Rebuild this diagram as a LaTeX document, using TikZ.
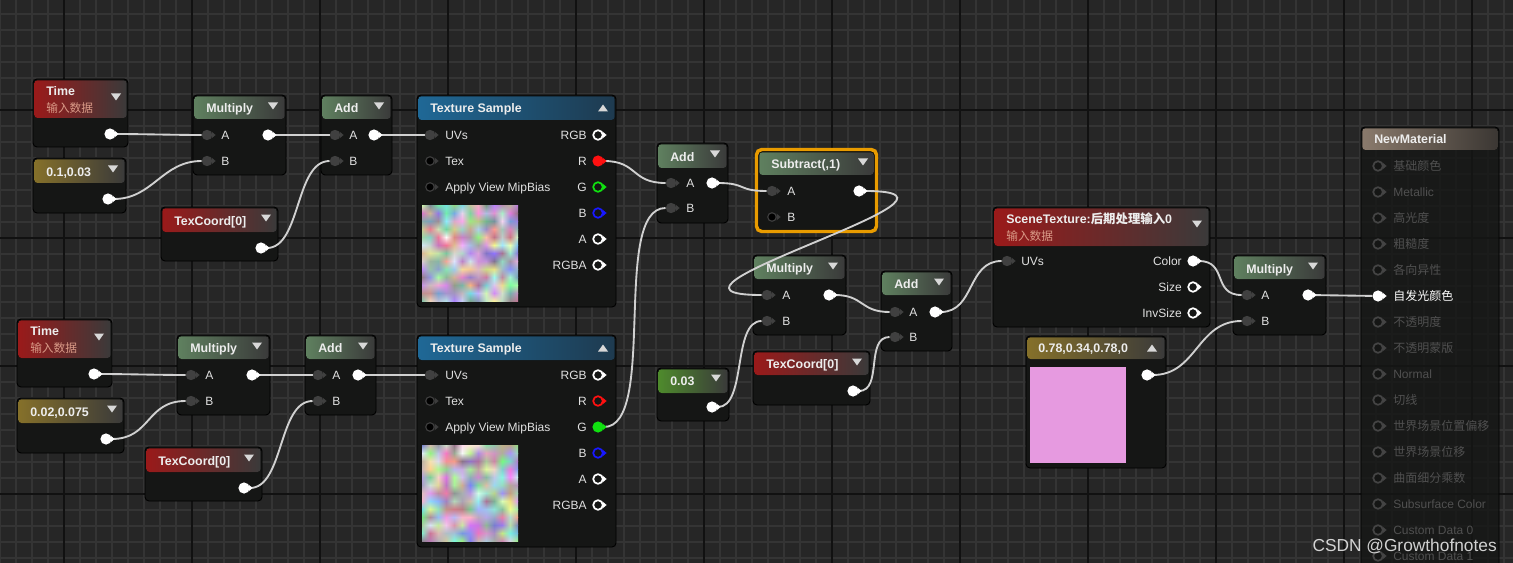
\documentclass[tikz,border=0pt]{standalone}
\usepackage{fontspec}
\setmainfont{Liberation Sans}
\newfontfamily\cjk{Noto Sans CJK SC}
\usetikzlibrary{positioning,shadings}

\definecolor{gridbg}{HTML}{262626}
\definecolor{gridminor}{HTML}{343434}
\definecolor{gridmajor}{HTML}{111111}
\definecolor{nodebody}{HTML}{151615}
\definecolor{hdgrey}{HTML}{3A3A3A}
\definecolor{redL}{HTML}{9A1A1A}
\definecolor{greenL}{HTML}{5F805F}
\definecolor{oliveL}{HTML}{85702A}
\definecolor{blueL}{HTML}{1F6896}
\definecolor{blueR}{HTML}{1E3A4F}
\definecolor{limeL}{HTML}{4E8A2C}
\definecolor{brownL}{HTML}{8A7A6C}
\definecolor{brownR}{HTML}{3B3733}
\definecolor{selorange}{HTML}{E89B00}
\definecolor{wirecol}{HTML}{D0D0D0}
\definecolor{pingrey}{HTML}{404040}
\definecolor{freering}{HTML}{3C3C3C}
\definecolor{dimpin}{HTML}{444444}
\definecolor{pinred}{HTML}{FF1010}
\definecolor{pingreen}{HTML}{10E010}
\definecolor{pinblue}{HTML}{1818FF}
\definecolor{titletext}{HTML}{EDEDED}
\definecolor{lbltext}{HTML}{E0E0E0}
\definecolor{subtext}{HTML}{D99A87}
\definecolor{dimtext}{HTML}{505050}
\definecolor{tricol}{HTML}{D8D8D8}
\definecolor{swatch}{HTML}{E69AE0}

\pgfdeclarelayer{grid}
\pgfdeclarelayer{bodies}
\pgfdeclarelayer{wires}
\pgfsetlayers{grid,bodies,wires,main}

\tikzset{
  body/.style={draw=black, fill=nodebody, rounded corners=3pt, line width=0.7pt, inner sep=0pt, outer sep=0pt},
  hdred/.style={left color=redL, right color=hdgrey},
  hdgreen/.style={left color=greenL, right color=hdgrey},
  hdolive/.style={left color=oliveL, right color=hdgrey},
  hdblue/.style={left color=blueL, right color=blueR},
  hdlime/.style={left color=limeL, right color=hdgrey},
  hdbrown/.style={left color=brownL, right color=brownR},
  title/.style={anchor=west, inner sep=0pt, text=titletext, font=\bfseries\fontsize{9.3}{10}\selectfont, text height=7.5pt, text depth=1.1pt},
  subtitle/.style={anchor=west, inner sep=0pt, text=subtext, font=\cjk\fontsize{8.8}{10}\selectfont, text height=7.5pt, text depth=1.1pt},
  lbl/.style={anchor=west, inner sep=0pt, text=lbltext, font=\fontsize{9}{10}\selectfont, text height=7.5pt, text depth=1.1pt},
  rlbl/.style={lbl, anchor=east},
  dimlbl/.style={lbl, text=dimtext},
  pinin/.style={circle, fill=pingrey, minimum size=7.8pt, inner sep=0pt},
  pinfree/.style={circle, draw=freering, fill=black, line width=0.9pt, minimum size=6.4pt, inner sep=0pt},
  pinout/.style={circle, fill=white, minimum size=8.4pt, inner sep=0pt},
  ring/.style={circle, draw=#1, fill=nodebody, line width=1.3pt, minimum size=7.2pt, inner sep=0pt},
  wire/.style={draw=wirecol, line width=1.4pt},
  tri/.style={fill=tricol},
}

% body and header of one material node: name, x1, y1, x2, y2, header bottom, header style
\newcommand\matnode[7]{%
  \begin{pgfonlayer}{bodies}
  \node[body, minimum width={(#4-#2)*0.75pt}, minimum height={(#5-#3)*0.75pt}] (#1) at ({(#2+#4)/2},{(#3+#5)/2}) {};
  \fill[#7, rounded corners=2.4pt] (#2+1.3,#3+1.3) rectangle (#4-1.3,#6);
  \end{pgfonlayer}}
% pin: style, name, x, y, tip colour
\newcommand\pinnode[5]{%
  \node[#1] (#2) at (#3,#4) {};
  \fill[#5] (#3+4.6,#4-3.4) -- (#3+8.6,#4) -- (#3+4.6,#4+3.4) -- cycle;}
\newcommand\dropdown[2]{\fill[tri] (#1-5,#2-3.5) -- (#1+5,#2-3.5) -- (#1,#2+3.5) -- cycle;}
\newcommand\dropup[2]{\fill[tri] (#1-5,#2+3.5) -- (#1+5,#2+3.5) -- (#1,#2-3.5) -- cycle;}
% smooth noise preview of a texture sample
\newcommand\noisetex[2]{%
  \foreach \i in {0,...,12}{\foreach \j in {0,...,12}{%
    \pgfmathsetmacro\nzr{0.45+0.55*rnd}%
    \pgfmathsetmacro\nzg{0.45+0.55*rnd}%
    \pgfmathsetmacro\nzb{0.5+0.5*rnd}%
    \xglobal\definecolor{nz-\i-\j}{rgb}{\nzr,\nzg,\nzb}}}%
  \foreach \i [evaluate=\i as \ii using int(\i+1)] in {0,...,11}{%
    \foreach \j [evaluate=\j as \jj using int(\j+1)] in {0,...,11}{%
      \shade[upper left=nz-\i-\j, upper right=nz-\ii-\j, lower left=nz-\i-\jj, lower right=nz-\ii-\jj] (#1+8*\i,#2+8*\j) rectangle ++(8.1,8.1);}}}

\begin{document}
\begin{tikzpicture}[x=0.75pt, y=-0.75pt]
\useasboundingbox (0,0) rectangle (1513,563);
\clip (0,0) rectangle (1513,563);
\pgfmathsetseed{11}

\begin{pgfonlayer}{grid}
\fill[gridbg] (0,0) rectangle (1513,563);
\foreach \x in {0.3,16.3,...,1513} \draw[gridminor, line width=1.25pt] (\x,0) -- (\x,563);
\foreach \y in {14,30,...,563} \draw[gridminor, line width=1.25pt] (0,\y) -- (1513,\y);
\foreach \x in {64.3,192.3,...,1513} \draw[gridmajor, line width=1.5pt] (\x,0) -- (\x,563);
\foreach \y in {110,238,366,494} \draw[gridmajor, line width=1.5pt] (0,\y) -- (1513,\y);
\end{pgfonlayer}

% upper chain
\matnode{time1}{33}{79}{128}{147}{118}{hdred}
\node[title] (time1-t) at (46,91) {Time};
\node[subtitle] (time1-s) at (46,108) {输入数据};
\dropdown{116}{97}
\pinnode{pinout}{time1o}{110}{134}{white}

\matnode{c1}{33}{158}{126}{213}{183}{hdolive}
\node[title] (c1-t) at (46,172) {0.1,0.03};
\dropdown{113}{169}
\pinnode{pinout}{c1o}{108}{199}{white}

\matnode{mul1}{193}{95}{286}{175}{119}{hdgreen}
\node[title] (mul1-t) at (206,108) {Multiply};
\dropdown{273}{106}
\pinnode{pinin}{mul1a}{207}{135}{pingrey}
\pinnode{pinin}{mul1b}{207}{161}{pingrey}
\node[lbl] (mul1a-l) at (221,135) {A};
\node[lbl] (mul1b-l) at (221,161) {B};
\pinnode{pinout}{mul1o}{268}{135}{white}

\matnode{add1}{321}{95}{392}{175}{119}{hdgreen}
\node[title] (add1-t) at (334,108) {Add};
\dropdown{379}{106}
\pinnode{pinin}{add1a}{335}{135}{pingrey}
\pinnode{pinin}{add1b}{335}{161}{pingrey}
\node[lbl] (add1a-l) at (349,135) {A};
\node[lbl] (add1b-l) at (349,161) {B};
\pinnode{pinout}{add1o}{374}{135}{white}

\matnode{tc1}{161}{207}{278}{261}{232}{hdred}
\node[title] (tc1-t) at (174,221) {TexCoord[0]};
\dropdown{266}{218}
\pinnode{pinout}{tc1o}{261}{248}{white}

\matnode{ts1}{417}{95}{616}{307}{120}{hdblue}
\node[title] (ts1-t) at (430,108) {Texture Sample};
\dropup{603}{108}
\pinnode{pinin}{ts1uv}{430}{135}{pingrey}
\pinnode{pinfree}{ts1tex}{430}{161}{freering}
\pinnode{pinfree}{ts1mip}{430}{187}{freering}
\node[lbl] (ts1uv-l) at (445,135) {UVs};
\node[lbl] (ts1tex-l) at (445,161) {Tex};
\node[lbl] (ts1mip-l) at (445,187) {Apply View MipBias};
\pinnode{ring=white}{ts1rgb}{598}{135}{white}
\pinnode{pinout, fill=pinred}{ts1r}{598}{161}{pinred}
\pinnode{ring=pingreen}{ts1g}{598}{187}{pingreen}
\pinnode{ring=pinblue}{ts1b}{598}{213}{pinblue}
\pinnode{ring=white}{ts1a}{598}{239}{white}
\pinnode{ring=white}{ts1rgba}{598}{265}{white}
\node[rlbl] (ts1rgb-l) at (587,135) {RGB};
\node[rlbl] (ts1r-l) at (587,161) {R};
\node[rlbl] (ts1g-l) at (587,187) {G};
\node[rlbl] (ts1b-l) at (587,213) {B};
\node[rlbl] (ts1a-l) at (587,239) {A};
\node[rlbl] (ts1rgba-l) at (587,265) {RGBA};
\begin{pgfonlayer}{bodies}
\noisetex{422}{205}
\end{pgfonlayer}

% lower chain
\matnode{time2}{17}{319}{112}{387}{358}{hdred}
\node[title] (time2-t) at (30,331) {Time};
\node[subtitle] (time2-s) at (30,348) {输入数据};
\dropdown{99}{337}
\pinnode{pinout}{time2o}{94}{374}{white}

\matnode{c2}{17}{398}{124}{453}{423}{hdolive}
\node[title] (c2-t) at (30,412) {0.02,0.075};
\dropdown{112}{409}
\pinnode{pinout}{c2o}{106}{439}{white}

\matnode{mul4}{177}{335}{270}{415}{359}{hdgreen}
\node[title] (mul4-t) at (190,348) {Multiply};
\dropdown{257}{346}
\pinnode{pinin}{mul4a}{191}{375}{pingrey}
\pinnode{pinin}{mul4b}{191}{401}{pingrey}
\node[lbl] (mul4a-l) at (205,375) {A};
\node[lbl] (mul4b-l) at (205,401) {B};
\pinnode{pinout}{mul4o}{252}{375}{white}

\matnode{add4}{305}{335}{376}{415}{359}{hdgreen}
\node[title] (add4-t) at (318,348) {Add};
\dropdown{363}{346}
\pinnode{pinin}{add4a}{318}{375}{pingrey}
\pinnode{pinin}{add4b}{318}{401}{pingrey}
\node[lbl] (add4a-l) at (332,375) {A};
\node[lbl] (add4b-l) at (332,401) {B};
\pinnode{pinout}{add4o}{358}{375}{white}

\matnode{tc3}{145}{447}{262}{501}{472}{hdred}
\node[title] (tc3-t) at (158,461) {TexCoord[0]};
\dropdown{249}{458}
\pinnode{pinout}{tc3o}{244}{488}{white}

\matnode{ts2}{417}{335}{616}{547}{360}{hdblue}
\node[title] (ts2-t) at (430,348) {Texture Sample};
\dropup{603}{348}
\pinnode{pinin}{ts2uv}{430}{375}{pingrey}
\pinnode{pinfree}{ts2tex}{430}{401}{freering}
\pinnode{pinfree}{ts2mip}{430}{427}{freering}
\node[lbl] (ts2uv-l) at (445,375) {UVs};
\node[lbl] (ts2tex-l) at (445,401) {Tex};
\node[lbl] (ts2mip-l) at (445,427) {Apply View MipBias};
\pinnode{ring=white}{ts2rgb}{598}{375}{white}
\pinnode{ring=pinred}{ts2r}{598}{401}{pinred}
\pinnode{pinout, fill=pingreen}{ts2g}{598}{427}{pingreen}
\pinnode{ring=pinblue}{ts2b}{598}{453}{pinblue}
\pinnode{ring=white}{ts2a}{598}{479}{white}
\pinnode{ring=white}{ts2rgba}{598}{505}{white}
\node[rlbl] (ts2rgb-l) at (587,375) {RGB};
\node[rlbl] (ts2r-l) at (587,401) {R};
\node[rlbl] (ts2g-l) at (587,427) {G};
\node[rlbl] (ts2b-l) at (587,453) {B};
\node[rlbl] (ts2a-l) at (587,479) {A};
\node[rlbl] (ts2rgba-l) at (587,505) {RGBA};
\begin{pgfonlayer}{bodies}
\noisetex{422}{445}
\end{pgfonlayer}

% mixing the two samples
\matnode{add2}{657}{143}{728}{223}{168}{hdgreen}
\node[title] (add2-t) at (670,157) {Add};
\dropdown{715}{154}
\pinnode{pinin}{add2a}{671}{183}{pingrey}
\pinnode{pinin}{add2b}{671}{208}{pingrey}
\node[lbl] (add2a-l) at (686,183) {A};
\node[lbl] (add2b-l) at (686,208) {B};
\pinnode{pinout}{add2o}{712}{183}{white}

\matnode{sub}{758}{151}{875}{230}{175}{hdgreen}
\begin{pgfonlayer}{bodies}
\draw[selorange, line width=2.6pt, rounded corners=4pt] (756.5,149.5) rectangle (876.5,231.5);
\end{pgfonlayer}
\node[title] (sub-t) at (771,164) {Subtract(,1)};
\dropdown{863}{162}
\pinnode{pinin}{suba}{772}{191}{pingrey}
\pinnode{pinfree}{subb}{772}{217}{freering}
\node[lbl] (suba-l) at (787,191) {A};
\node[lbl] (subb-l) at (787,217) {B};
\pinnode{pinout}{subo}{859}{191}{white}

\matnode{mul2}{753}{255}{846}{335}{279}{hdgreen}
\node[title] (mul2-t) at (766,268) {Multiply};
\dropdown{833}{266}
\pinnode{pinin}{mul2a}{767}{295}{pingrey}
\pinnode{pinin}{mul2b}{767}{321}{pingrey}
\node[lbl] (mul2a-l) at (782,295) {A};
\node[lbl] (mul2b-l) at (782,321) {B};
\pinnode{pinout}{mul2o}{829}{295}{white}

\matnode{k003}{657}{368}{729}{421}{393}{hdlime}
\node[title] (k003-t) at (670,381) {0.03};
\dropdown{716}{378}
\pinnode{pinout}{k003o}{712}{407}{white}

\matnode{tc2}{753}{351}{870}{405}{375}{hdred}
\node[title] (tc2-t) at (766,364) {TexCoord[0]};
\dropdown{857}{362}
\pinnode{pinout}{tc2o}{853}{391}{white}

\matnode{add3}{881}{271}{952}{351}{295}{hdgreen}
\node[title] (add3-t) at (894,284) {Add};
\dropdown{939}{282}
\pinnode{pinin}{add3a}{895}{312}{pingrey}
\pinnode{pinin}{add3b}{895}{337}{pingrey}
\node[lbl] (add3a-l) at (909,312) {A};
\node[lbl] (add3b-l) at (909,337) {B};
\pinnode{pinout}{add3o}{935}{312}{white}

% scene colour tinted
\matnode{scene}{993}{207}{1210}{327}{246}{hdred}
\node[title] (scene-t) at (1006,219) {SceneTexture:{\cjk 后期处理输入}0};
\node[subtitle] (scene-s) at (1006,236) {输入数据};
\dropdown{1197}{224}
\pinnode{pinin}{sceneuv}{1007}{261}{pingrey}
\node[lbl] (sceneuv-l) at (1021,261) {UVs};
\pinnode{pinout}{scenecol}{1193}{261}{white}
\pinnode{ring=white}{scenesize}{1193}{287}{white}
\pinnode{ring=white}{sceneinv}{1193}{313}{white}
\node[rlbl] (scenecol-l) at (1182,261) {Color};
\node[rlbl] (scenesize-l) at (1182,287) {Size};
\node[rlbl] (sceneinv-l) at (1182,313) {InvSize};

\matnode{kcol}{1026}{336}{1166}{468}{359}{hdolive}
\node[title] (kcol-t) at (1038,348) {0.78,0.34,0.78,0};
\dropup{1152}{348}
\begin{pgfonlayer}{bodies}
\fill[swatch] (1030,367) rectangle (1126,463);
\end{pgfonlayer}
\pinnode{pinout}{kcolo}{1147}{375}{white}

\matnode{mul3}{1233}{255}{1326}{335}{279}{hdgreen}
\node[title] (mul3-t) at (1246,269) {Multiply};
\dropdown{1313}{266}
\pinnode{pinin}{mul3a}{1247}{295}{pingrey}
\pinnode{pinin}{mul3b}{1247}{321}{pingrey}
\node[lbl] (mul3a-l) at (1261,295) {A};
\node[lbl] (mul3b-l) at (1261,321) {B};
\pinnode{pinout}{mul3o}{1308}{295}{white}

% material output
\begin{pgfonlayer}{bodies}
\node[body, fill opacity=0.8, minimum width=138*0.75pt, minimum height=460*0.75pt, anchor=north west] (nm) at (1361,127) {};
\fill[hdbrown, rounded corners=2.4pt] (1362.3,128.3) rectangle (1497.7,150);
\end{pgfonlayer}
\node[title] (nm-t) at (1374,139) {NewMaterial};
\foreach \i/\lab in {0/{\cjk 基础颜色}, 1/Metallic, 2/{\cjk 高光度}, 3/{\cjk 粗糙度}, 4/{\cjk 各向异性}, 6/{\cjk 不透明度}, 7/{\cjk 不透明蒙版}, 8/Normal, 9/{\cjk 切线}, 10/{\cjk 世界场景位置偏移}, 11/{\cjk 世界场景位移}, 12/{\cjk 曲面细分乘数}, 13/Subsurface Color, 14/Custom Data 0, 15/Custom Data 1}{
  \pgfmathsetmacro\yy{166+26*\i}
  \pinnode{ring=dimpin}{nm\i}{1378}{\yy}{dimpin}
  \node[dimlbl] (nm\i-l) at (1393,\yy) {\lab};
}
\pinnode{pinout}{nm5}{1378}{296}{white}
\node[lbl, text=white] (nm5-l) at (1393,296) {\cjk 自发光颜色};

\node[anchor=east, inner sep=0pt, font=\fontsize{13}{14}\selectfont, text=white, text opacity=0.8] (mark) at (1497,546) {CSDN @Growthofnotes};

% wires
\begin{pgfonlayer}{wires}
\draw[wire] (time1o) .. controls +(30,0) and +(-30,0) .. (mul1a);
\draw[wire] (c1o) .. controls +(45,0) and +(-45,0) .. (mul1b);
\draw[wire] (mul1o) -- (add1a);
\draw[wire] (tc1o) .. controls +(40,0) and +(-40,0) .. (add1b);
\draw[wire] (add1o) -- (ts1uv);
\draw[wire] (time2o) .. controls +(30,0) and +(-30,0) .. (mul4a);
\draw[wire] (c2o) .. controls +(45,0) and +(-45,0) .. (mul4b);
\draw[wire] (mul4o) -- (add4a);
\draw[wire] (tc3o) .. controls +(40,0) and +(-40,0) .. (add4b);
\draw[wire] (add4o) -- (ts2uv);
\draw[wire] (ts1r) .. controls +(40,0) and +(-40,0) .. (add2a);
\draw[wire] (ts2g) .. controls +(60,0) and +(-60,0) .. (add2b);
\draw[wire] (add2o) .. controls +(35,0) and +(-35,0) .. (suba);
\draw[wire] (subo) .. controls +(150,0) and +(-150,0) .. (mul2a);
\draw[wire] (k003o) .. controls +(35,0) and +(-35,0) .. (mul2b);
\draw[wire] (mul2o) .. controls +(35,0) and +(-35,0) .. (add3a);
\draw[wire] (tc2o) .. controls +(30,0) and +(-30,0) .. (add3b);
\draw[wire] (add3o) .. controls +(40,0) and +(-40,0) .. (sceneuv);
\draw[wire] (scenecol) .. controls +(35,0) and +(-35,0) .. (mul3a);
\draw[wire] (kcolo) .. controls +(50,0) and +(-50,0) .. (mul3b);
\draw[wire] (mul3o) -- (nm5);
\end{pgfonlayer}
\end{tikzpicture}
\end{document}
